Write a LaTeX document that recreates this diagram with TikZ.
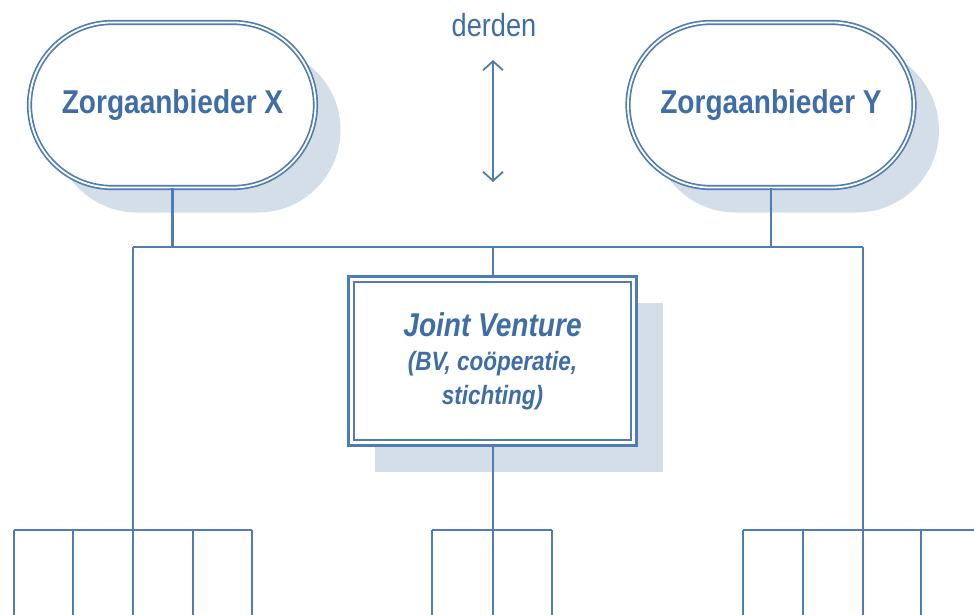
\documentclass[tikz,border=0pt]{standalone}
\usepackage{fontspec}
\setmainfont{Liberation Sans}[FakeStretch=0.85]
\usetikzlibrary{arrows.meta,shadows,shapes.misc}
\definecolor{linec}{HTML}{4F7DB3}
\definecolor{textc}{HTML}{3F6EA7}
\definecolor{shadec}{HTML}{D4DEE9}
\begin{document}
\begin{tikzpicture}[x=1pt,y=-1pt,
  conn/.style={draw=linec,line width=2.3pt},
  party/.style={rounded rectangle,draw=linec,double=white,double distance=1.8pt,
    line width=1.7pt,fill=white,minimum width=286pt,minimum height=165pt,
    inner sep=0pt,text=textc,font=\bfseries\fontsize{33}{38}\selectfont,
    drop shadow={shadow xshift=25pt,shadow yshift=-25pt,fill=shadec,opacity=1}},
  venture/.style={rectangle,draw=linec,line width=3pt,fill=white,
    minimum width=288pt,minimum height=169pt,inner sep=0pt,text=textc,align=center,
    font=\bfseries\itshape\fontsize{26.5}{34}\selectfont,
    drop shadow={shadow xshift=26pt,shadow yshift=-26pt,fill=shadec,opacity=1}},
  label/.style={text=textc,font=\fontsize{32}{36}\selectfont,inner sep=0pt}
]
\useasboundingbox (0,0) rectangle (974,615);
\clip (0,0) rectangle (974,615);

% the two parties and the joint venture
\node[party] (X) at (172.5,105) {Zorgaanbieder X};
\node[party] (Y) at (771,105) {Zorgaanbieder Y};
\node[venture] (JV) at (492.5,361)
  {{\fontsize{33}{34}\selectfont Joint Venture}\\(BV, coöperatie,\\stichting)};
\draw[linec,line width=1.5pt]
  ([shift={(7pt,-7pt)}]JV.north west) rectangle ([shift={(-7pt,7pt)}]JV.south east);

% third parties, with a two-way arrow
\node[label,anchor=base] (derden) at (494,37) {derden};
\coordinate (arrTop) at (493,60);
\coordinate (arrBot) at (493,182);
\draw[linec,line width=1.8pt,{Straight Barb[length=9pt,width=20pt]}-{Straight Barb[length=9pt,width=20pt]}]
  (arrTop) -- (arrBot);

% bus linking both parties and the joint venture
\coordinate (busL) at (133,247);
\coordinate (busR) at (863,247);
\coordinate (busM) at (493,247);
\draw[conn] (X.south) -- (X.south |- busL);
\draw[conn] (Y.south) -- (Y.south |- busR);
\draw[conn] (busL) -- (busR);
\draw[conn] (busM) -- (busM |- JV.north);

% branches down to the units below
\coordinate (gL) at (133,530);
\coordinate (gM) at (493,530);
\coordinate (gR) at (863,530);
\coordinate (bottom) at (0,625);
\draw[conn] (busL) -- (gL);
\draw[conn] (busR) -- (gR);
\draw[conn] (JV.south -| gM) -- (gM);

\coordinate (lA) at (14,530);  \coordinate (lB) at (252,530);
\coordinate (mA) at (432,530); \coordinate (mB) at (552,530);
\coordinate (rA) at (743,530); \coordinate (rB) at (981,530);
\draw[conn] (lA) -- (lB);
\draw[conn] (mA) -- (mB);
\draw[conn] (rA) -- (rB);
\foreach \x [count=\i] in {14,73,133,193,252}{
  \coordinate (l\i) at (\x,530);
  \draw[conn] (l\i) -- (l\i |- bottom);
}
\foreach \x [count=\i] in {432,493,552}{
  \coordinate (m\i) at (\x,530);
  \draw[conn] (m\i) -- (m\i |- bottom);
}
\foreach \x [count=\i] in {743,803,863,921,981}{
  \coordinate (r\i) at (\x,530);
  \draw[conn] (r\i) -- (r\i |- bottom);
}
\end{tikzpicture}
\end{document}
